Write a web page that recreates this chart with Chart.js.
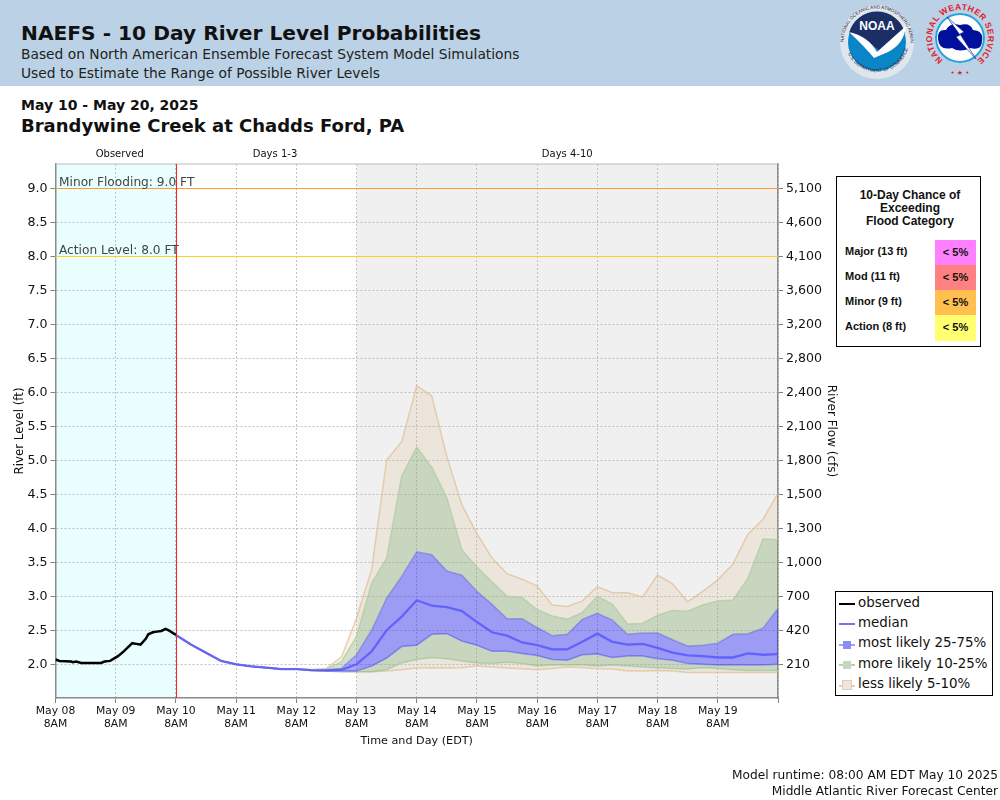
<!DOCTYPE html>
<html>
<head>
<meta charset="utf-8">
<title>NAEFS River Level Probabilities</title>
<script src="https://cdn.jsdelivr.net/npm/chart.js@4/dist/chart.umd.min.js"></script>
<style>
    html, body { margin: 0; padding: 0; background: #fff; }
    #page { position: relative; width: 1000px; height: 800px; overflow: hidden; font-family: "DejaVu Sans", sans-serif; color: #000; }
    #page div { position: absolute; white-space: nowrap; }
    #header { left: 0; top: 0; width: 1000px; height: 86px; background: #bbd2e6; }
    #graph { position: absolute; left: 0; top: 0; }
    .sub { font-size: 13.8px; left: 21px; color: #222; }
    #flood { left: 836px; top: 176px; width: 143px; height: 169px; border: 1.5px solid #000; background: #fff; font-family: "Liberation Sans", sans-serif; font-weight: bold; }
    #legend { left: 835px; top: 591px; width: 156px; height: 103px; border: 1px solid #000; background: #fff; }
    .swatch-line { left: 3px; width: 16px; height: 2px; }
    .swatch-box { left: 7px; width: 8px; height: 8px; }
    .leg-text { left: 22px; font-size: 13.4px; color: #111; }
    .foot { right: 2px; font-size: 12.2px; color: #111; }
</style>
</head>
<body>
<div id="page">
    <div id="header"></div>
    <div style="left:21px;top:21px;font-size:20.2px;font-weight:bold;color:#111">NAEFS - 10 Day River Level Probabilities</div>
    <div class="sub" style="top:46px">Based on North American Ensemble Forecast System Model Simulations</div>
    <div class="sub" style="top:65px">Used to Estimate the Range of Possible River Levels</div>

    <svg style="position:absolute;left:838px;top:2px" width="162" height="78" viewBox="0 0 162 78">
        <defs>
            <path id="noaa-top" d="M 5.5 40 A 33.5 33.5 0 0 1 72.5 40"/>
            <path id="noaa-bot" d="M 8 46 A 32 32 0 0 0 70 46"/>
            <path id="nws-ring" d="M 105 58 A 28 28 0 1 1 139 58"/>
        </defs>
        <circle cx="39" cy="40" r="37" fill="#dfe6ee"/>
        <circle cx="39" cy="40" r="29" fill="#0a85c8"/>
        <path d="M 11 31 A 29 29 0 0 1 67 31 L 43 50 Q 30 38 11 31 Z" fill="#1b2f66"/>
        <path d="M 11 30 Q 30 34 39 50 Q 50 40 68 24 Q 66 42 50 50 L 36 56 Q 26 44 11 30 Z" fill="#fff"/>
        <text x="39" y="28" text-anchor="middle" font-family="Liberation Sans" font-weight="bold" font-size="12" fill="#fff">NOAA</text>
        <text font-family="Liberation Sans" font-size="4.6" fill="#223"><textPath href="#noaa-top">NATIONAL OCEANIC AND ATMOSPHERIC ADMINISTRATION</textPath></text>
        <text font-family="Liberation Sans" font-size="4.6" fill="#223"><textPath href="#noaa-bot" startOffset="6">U.S. DEPARTMENT OF COMMERCE</textPath></text>
        <circle cx="122" cy="36" r="25" fill="#fff"/>
        <circle cx="122" cy="36" r="24" fill="none" stroke="#27a3d8" stroke-width="2"/>
        <path d="M 100 37 Q 99 27 108 28 Q 112 20 122 23 Q 132 20 135 28 Q 146 29 144 39 Q 144 49 132 46 Q 122 51 114 46 Q 101 49 100 37 Z" fill="#00109a"/>
        <path d="M 109 15 L 126 30 L 122 32 L 138 57 L 118 35 L 122 33 Z" fill="#fff" stroke="#00109a" stroke-width="0.6"/>
        <text font-family="Liberation Sans" font-weight="bold" font-size="8.5" fill="#e0202a"><textPath href="#nws-ring" textLength="139" lengthAdjust="spacing">NATIONAL WEATHER SERVICE</textPath></text>
        <text x="122" y="73" text-anchor="middle" font-size="7" fill="#e0202a">• ★ •</text>
    </svg>

    <div style="left:21px;top:97px;font-size:14px;font-weight:bold;color:#111">May 10 - May 20, 2025</div>
    <div style="left:21px;top:115px;font-size:18px;font-weight:bold;color:#111">Brandywine Creek at Chadds Ford, PA</div>

    <canvas id="graph" width="1000" height="800" style="width:1000px;height:800px"></canvas>

    <div id="flood"></div>

    <div id="legend">
        <div class="swatch-line" style="top:11px;background:#000"></div>
        <div class="leg-text" style="top:3px">observed</div>
        <div class="swatch-line" style="top:31px;background:#7474f8"></div>
        <div class="leg-text" style="top:23px">median</div>
        <div class="swatch-line" style="top:52px;background:#a0a0f8"></div>
        <div class="swatch-box" style="top:49px;background:#8c8cf6"></div>
        <div class="leg-text" style="top:43px">most likely 25-75%</div>
        <div class="swatch-line" style="top:72px;background:#b4d4ac"></div>
        <div class="swatch-box" style="top:69px;background:#c8d6c0"></div>
        <div class="leg-text" style="top:64px">more likely 10-25%</div>
        <div class="swatch-line" style="top:93px;background:#e4cdb0"></div>
        <div class="swatch-box" style="top:89px;background:#eee6dc;outline:1px solid #e4cdb0"></div>
        <div class="leg-text" style="top:84px">less likely 5-10%</div>
    </div>

    <div class="foot" style="top:768px">Model runtime: 08:00 AM EDT May 10 2025</div>
    <div class="foot" style="top:784px">Middle Atlantic River Forecast Center</div>
</div>

<script>
// Hours are counted from May 08 8AM
const dayTicks = [0, 24, 48, 72, 96, 120, 144, 168, 192, 216, 240, 264, 288];
const dayLabels = ["May 08", "May 09", "May 10", "May 11", "May 12", "May 13", "May 14", "May 15", "May 16", "May 17", "May 18", "May 19", ""];

const levelTicks = [2.0, 2.5, 3.0, 3.5, 4.0, 4.5, 5.0, 5.5, 6.0, 6.5, 7.0, 7.5, 8.0, 8.5, 9.0];
const flowLabels = ["210", "420", "700", "1,000", "1,300", "1,500", "1,800", "2,100", "2,400", "2,800", "3,200", "3,600", "4,100", "4,600", "5,100"];

const observedHours = [0, 1.6, 6.25, 6.9, 8.25, 10.25, 18.2, 19.5, 21.8, 24.9, 26.9, 30.6, 32.2, 33.9, 35.9, 37, 38.8, 40.4, 42.2, 43.9, 45.5, 48];
const observedLevels = [2.08, 2.06, 2.05, 2.04, 2.05, 2.03, 2.03, 2.05, 2.06, 2.13, 2.19, 2.32, 2.31, 2.30, 2.38, 2.45, 2.48, 2.49, 2.50, 2.53, 2.50, 2.44];

const forecastHours = [48, 54, 60, 66, 72, 78, 84, 90, 96, 102, 108, 114, 120, 126, 132, 138, 144, 150, 156, 162, 168, 174, 180, 186, 192, 198, 204, 210, 216, 222, 228, 234, 240, 246, 252, 258, 264, 270, 276, 282, 288];
const median = [2.44, 2.30, 2.18, 2.06, 2.01, 1.98, 1.96, 1.94, 1.94, 1.925, 1.92, 1.93, 2.01, 2.20, 2.51, 2.71, 2.95, 2.87, 2.85, 2.79, 2.63, 2.48, 2.43, 2.33, 2.29, 2.23, 2.23, 2.34, 2.46, 2.34, 2.30, 2.31, 2.25, 2.18, 2.14, 2.13, 2.11, 2.11, 2.17, 2.15, 2.16];
const upperTan = [2.44, 2.30, 2.18, 2.06, 2.01, 1.98, 1.96, 1.94, 1.94, 1.93, 1.95, 2.12, 2.69, 3.40, 5.01, 5.28, 6.10, 5.95, 5.06, 4.35, 3.93, 3.57, 3.34, 3.26, 3.16, 2.88, 2.86, 2.94, 3.15, 3.06, 3.06, 3.00, 3.32, 3.19, 2.93, 3.08, 3.25, 3.48, 3.92, 4.14, 4.52];
const upperGreen = [2.44, 2.30, 2.18, 2.06, 2.01, 1.98, 1.96, 1.94, 1.94, 1.93, 1.94, 2.05, 2.42, 3.20, 3.57, 4.77, 5.20, 4.90, 4.45, 3.69, 3.44, 3.22, 3.01, 2.99, 2.81, 2.72, 2.67, 2.77, 3.01, 2.89, 2.60, 2.61, 2.73, 2.80, 2.79, 2.88, 2.94, 2.95, 3.27, 3.85, 3.84];
const upperBlue = [2.44, 2.30, 2.18, 2.06, 2.01, 1.98, 1.96, 1.94, 1.94, 1.925, 1.93, 1.95, 2.15, 2.51, 2.98, 3.30, 3.66, 3.62, 3.38, 3.32, 3.08, 2.89, 2.68, 2.68, 2.55, 2.43, 2.45, 2.67, 2.76, 2.66, 2.45, 2.47, 2.47, 2.37, 2.28, 2.29, 2.32, 2.45, 2.46, 2.54, 2.83];
const lowerBlue = [2.44, 2.30, 2.18, 2.06, 2.01, 1.98, 1.96, 1.94, 1.94, 1.92, 1.91, 1.91, 1.91, 1.985, 2.10, 2.27, 2.29, 2.45, 2.46, 2.35, 2.29, 2.20, 2.20, 2.17, 2.14, 2.08, 2.07, 2.15, 2.16, 2.11, 2.13, 2.13, 2.09, 2.07, 2.02, 2.01, 2.00, 2.00, 2.00, 2.00, 2.01];
const lowerGreen = [2.44, 2.30, 2.18, 2.06, 2.01, 1.98, 1.96, 1.94, 1.94, 1.92, 1.91, 1.90, 1.90, 1.90, 1.93, 2.03, 2.08, 2.11, 2.09, 2.06, 2.03, 2.02, 2.04, 2.02, 1.985, 2.00, 2.00, 2.00, 1.985, 2.00, 1.985, 1.97, 1.96, 1.95, 1.94, 1.96, 1.95, 1.93, 1.92, 1.92, 1.92];
const lowerTan = [2.44, 2.30, 2.18, 2.06, 2.01, 1.98, 1.96, 1.94, 1.94, 1.92, 1.91, 1.90, 1.90, 1.90, 1.91, 1.93, 1.955, 1.96, 1.955, 1.96, 1.985, 1.97, 1.955, 1.945, 1.93, 1.95, 1.97, 1.96, 1.945, 1.94, 1.91, 1.91, 1.92, 1.91, 1.89, 1.89, 1.89, 1.89, 1.89, 1.89, 1.89];

const floodCategories = ["Major (13 ft)", "Mod (11 ft)", "Minor (9 ft)", "Action (8 ft)"];
const floodChances = ["< 5%", "< 5%", "< 5%", "< 5%"];
const floodColors = ["#ff80ff", "#ff8080", "#ffc050", "#ffff70"];

// Flood table
const flood = document.getElementById("flood");
["10-Day Chance of", "Exceeding", "Flood Category"].forEach((t, i) => {
    flood.innerHTML += '<div style="left:0;width:136px;text-align:center;top:' + (11 + i*13) + 'px;font-size:12px;color:#111;left:5px">' + t + '</div>';
});
floodCategories.forEach((c, i) => {
    const top = 63 + i*25;
    flood.innerHTML += '<div style="left:8px;top:' + (top+5) + 'px;font-size:11px;color:#111">' + c + '</div>';
    flood.innerHTML += '<div style="left:98px;top:' + top + 'px;width:41px;height:25.5px;line-height:24px;text-align:center;font-size:11px;color:#111;background:' + floodColors[i] + '">' + floodChances[i].replace("<", "&lt;") + '</div>';
});

function toPoints(xs, ys) {
    return xs.map((x, i) => ({x: x, y: ys[i]}));
}

function band(values, line, fillColor) {
    return {
        data: toPoints(forecastHours, values),
        borderColor: line,
        backgroundColor: fillColor,
        borderWidth: 1.5,
        pointRadius: 0,
        tension: 0,
        fill: fillColor ? "+1" : false
    };
}

// Keep 1px lines on a single pixel row
function snap(p) {
    return Math.floor(p) + 0.5;
}

// Shaded zones, flood lines and their captions
const decorations = {
    id: "decorations",
    beforeDraw(chart) {
        const {ctx, chartArea: a, scales: {x}} = chart;
        ctx.save();
        ctx.fillStyle = "#e9ffff";
        ctx.fillRect(x.getPixelForValue(0), a.top, x.getPixelForValue(48) - x.getPixelForValue(0), a.height);
        ctx.fillStyle = "#f0f0f0";
        ctx.fillRect(x.getPixelForValue(120), a.top, x.getPixelForValue(288) - x.getPixelForValue(120), a.height);
        ctx.restore();
    },
    afterDatasetsDraw(chart) {
        const {ctx, chartArea: a, scales: {x, y}} = chart;
        const nine = snap(y.getPixelForValue(9));
        const eight = snap(y.getPixelForValue(8));
        const split = snap(x.getPixelForValue(48) + 0.4);
        ctx.save();
        ctx.lineWidth = 1;
        ctx.strokeStyle = "#bbbbbb";
        ctx.beginPath();
        ctx.moveTo(a.left, a.top);
        ctx.lineTo(a.right, a.top);
        ctx.stroke();
        ctx.strokeStyle = "#ff9a30";
        ctx.beginPath();
        ctx.moveTo(a.left, nine);
        ctx.lineTo(a.right, nine);
        ctx.stroke();
        ctx.strokeStyle = "#ffd020";
        ctx.beginPath();
        ctx.moveTo(a.left, eight);
        ctx.lineTo(a.right, eight);
        ctx.stroke();
        ctx.strokeStyle = "#ff2020";
        ctx.beginPath();
        ctx.moveTo(split, a.top);
        ctx.lineTo(split, a.bottom);
        ctx.stroke();

        ctx.font = "12.2px 'DejaVu Sans'";
        ctx.fillStyle = "#444";
        ctx.textAlign = "left";
        ctx.fillText("Minor Flooding: 9.0 FT", a.left + 3.5, nine - 2.5);
        ctx.fillText("Action Level: 8.0 FT", a.left + 3.5, eight - 2.5);

        ctx.font = "10px 'DejaVu Sans'";
        ctx.fillStyle = "#111";
        ctx.textAlign = "center";
        ctx.fillText("Observed", x.getPixelForValue(25.6), a.top - 7);
        ctx.fillText("Days 1-3", x.getPixelForValue(87.5), a.top - 7);
        ctx.fillText("Days 4-10", x.getPixelForValue(204), a.top - 7);
        ctx.restore();
    }
};

const grid = {color: "#c0c0c0", tickColor: "#808080", tickLength: 5, lineWidth: 1};

new Chart("graph", {
    type: "line",
    plugins: [decorations],
    data: {
        datasets: [
            {data: toPoints(observedHours, observedLevels), borderColor: "#000", borderWidth: 2.5, pointRadius: 0, tension: 0, fill: false},
            {data: toPoints(forecastHours, median), borderColor: "rgba(88,88,255,.85)", borderWidth: 2.3, pointRadius: 0, tension: 0, fill: false},
            band(upperTan, "rgba(222,184,135,.6)", "rgba(222,184,135,.2)"),
            band(upperGreen, "rgba(170,205,160,.7)", "rgba(126,166,103,.35)"),
            band(upperBlue, "rgba(100,100,240,.55)", "rgba(0,0,255,.35)"),
            band(lowerBlue, "rgba(100,100,240,.55)", "rgba(126,166,103,.35)"),
            band(lowerGreen, "rgba(170,205,160,.7)", "rgba(222,184,135,.2)"),
            band(lowerTan, "rgba(222,184,135,.6)", null)
        ]
    },
    options: {
        responsive: false,
        animation: false,
        events: [],
        layout: {padding: {left: 13, top: 164, right: 162, bottom: 52}},
        plugins: {legend: {display: false}, tooltip: {enabled: false}},
        scales: {
            x: {
                type: "linear",
                min: 0,
                max: 288,
                grid: grid,
                border: {color: "#8a8a8a", width: 1.5, dash: [2, 2]},
                afterBuildTicks: axis => { axis.ticks = dayTicks.map(v => ({value: v})); },
                afterFit: axis => { axis.height = 50; },
                ticks: {
                    autoSkip: false,
                    maxRotation: 0,
                    padding: 2,
                    color: "#111",
                    font: {family: "DejaVu Sans", size: 10.8},
                    callback: v => {
                        const label = dayLabels[dayTicks.indexOf(v)];
                        return label ? [label, "8AM"] : "";
                    }
                },
                title: {display: true, text: "Time and Day (EDT)", color: "#111", font: {family: "DejaVu Sans", size: 11.2}, padding: {top: 2, bottom: 0}}
            },
            y: {
                position: "left",
                min: 1.515,
                max: 9.357,
                grid: grid,
                border: {color: "#8a8a8a", width: 1.5, dash: [2, 2]},
                afterBuildTicks: axis => { axis.ticks = levelTicks.map(v => ({value: v})); },
                afterFit: axis => { axis.width = 42.5; },
                ticks: {
                    color: "#111",
                    padding: 3,
                    font: {family: "DejaVu Sans", size: 12.6},
                    callback: v => v.toFixed(1)
                },
                title: {display: true, text: "River Level (ft)", color: "#111", font: {family: "DejaVu Sans", size: 11.8}, padding: 0}
            },
            y1: {
                position: "right",
                min: 1.515,
                max: 9.357,
                grid: {drawOnChartArea: false, tickColor: "#808080", tickLength: 5},
                border: {color: "#8a8a8a", width: 1.5},
                afterBuildTicks: axis => { axis.ticks = levelTicks.map(v => ({value: v})); },
                afterFit: axis => { axis.width = 60; },
                ticks: {
                    color: "#111",
                    padding: 3,
                    font: {family: "DejaVu Sans", size: 12.6},
                    callback: v => flowLabels[levelTicks.indexOf(v)]
                },
                title: {display: true, text: "River Flow (cfs)", color: "#111", font: {family: "DejaVu Sans", size: 12}, padding: 0}
            }
        }
    }
});
</script>
</body>
</html>
